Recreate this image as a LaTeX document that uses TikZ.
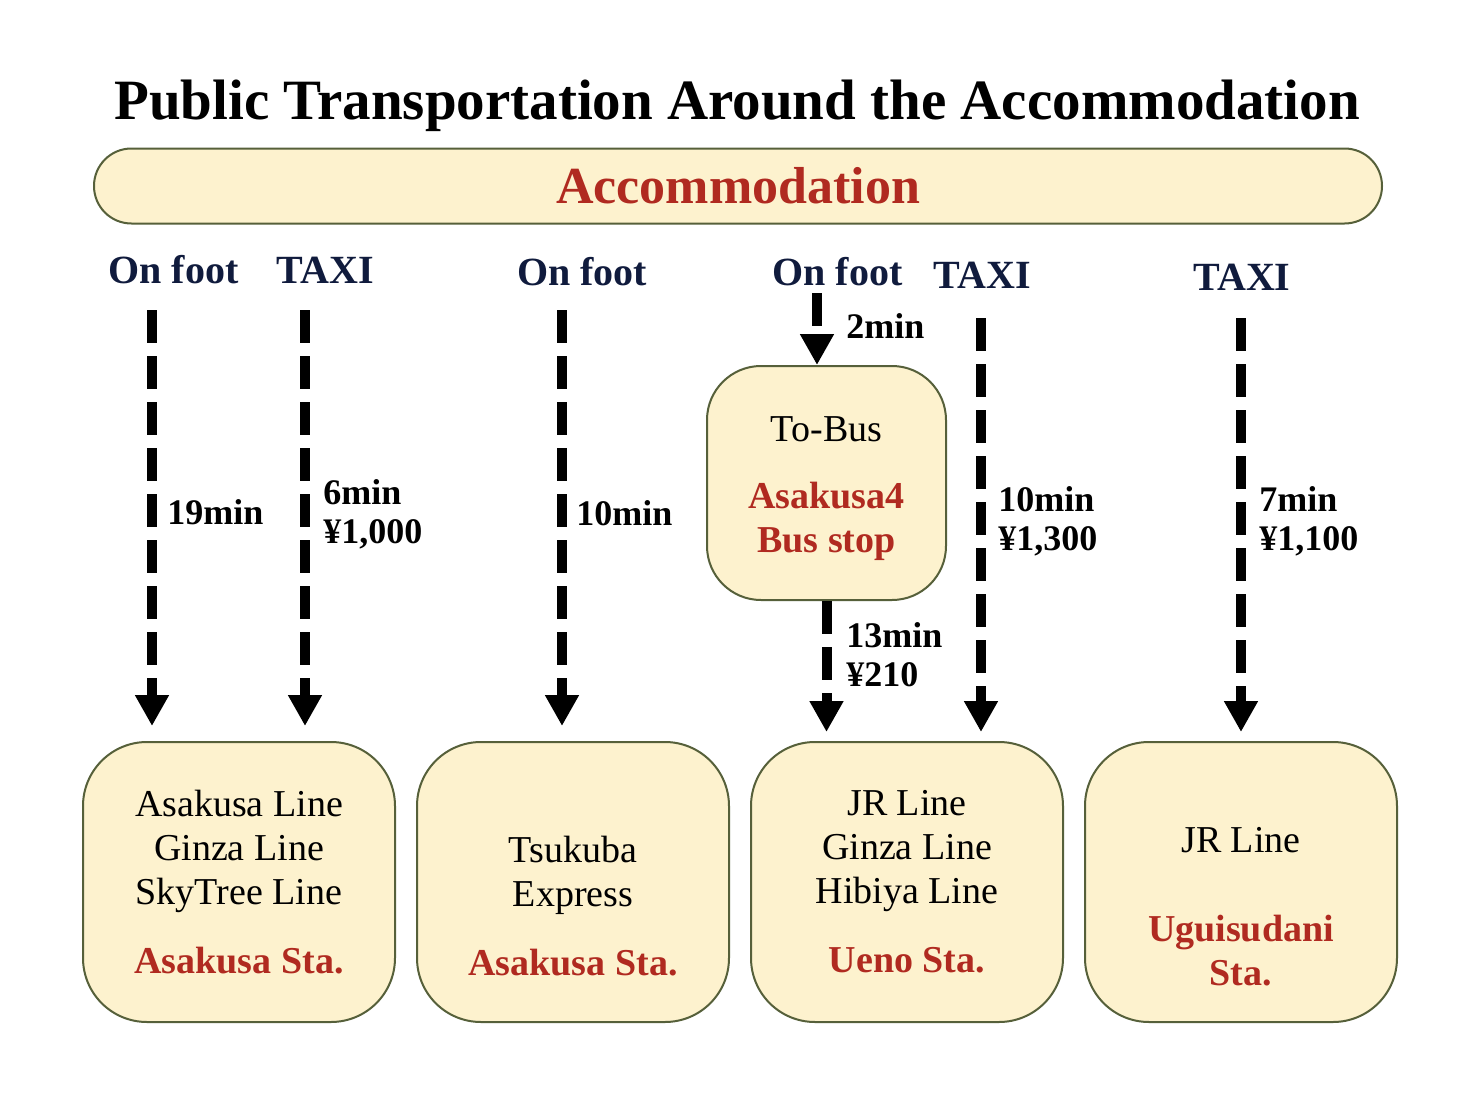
\documentclass[tikz,border=0pt]{standalone}
\usepackage{fontspec}
\setmainfont{Liberation Serif}
\usetikzlibrary{positioning,arrows.meta}

\definecolor{cream}{HTML}{FDF2CE}
\definecolor{olive}{HTML}{56603A}
\definecolor{stared}{HTML}{B02A20}
\definecolor{navy}{HTML}{101B3D}
\newcommand{\sta}[1]{{\bfseries\color{stared}#1}}

\begin{document}
\begin{tikzpicture}[x=0.5pt,y=-0.5pt]
        \tikzstyle{stop}=[draw=olive,fill=cream,line width=1pt,rounded corners=32pt,minimum width=156pt,minimum height=140pt,align=center,font=\fontsize{19}{22}\selectfont]
        \tikzstyle{mode}=[text=navy,anchor=base,inner sep=0pt,font=\bfseries\fontsize{20}{24}\selectfont]
        \tikzstyle{time}=[anchor=west,align=left,inner sep=0pt,font=\bfseries\fontsize{18}{19.5}\selectfont]
        \tikzstyle{route}=[line width=5pt,dash pattern=on 16.5pt off 6.5pt,-{Triangle[width=16pt,length=15.5pt]}]

        \fill[white] (0,0) rectangle (1480,1108);
        \useasboundingbox (0,0) rectangle (1480,1108);

        \node[font=\bfseries\fontsize{28.5}{32}\selectfont] (title) at (737,106) {Public Transportation Around the Accommodation};
        \node[draw=olive,fill=cream,line width=1pt,rounded corners=18.7pt,minimum width=644pt,minimum height=37.5pt,text=stared,font=\bfseries\fontsize{26}{30}\selectfont] (home) at (738,186) {Accommodation};

        % stations
        \node[stop] (asakusa) at (239,882) {Asakusa Line\\Ginza Line\\SkyTree Line\\[12.5pt]\sta{Asakusa Sta.}};
        \node[stop] (tsukuba) [right=10pt of asakusa] {\strut\\Tsukuba\\Express\\[12.5pt]\sta{Asakusa Sta.}};
        \node[stop] (ueno) [right=10pt of tsukuba] {JR Line\\Ginza Line\\Hibiya Line\\[12.5pt]\sta{Ueno Sta.}};
        \node[stop] (uguisudani) [right=10pt of ueno] {\strut\\JR Line\\[22.5pt]\sta{Uguisudani}\\\sta{Sta.}};
        \node[stop,minimum width=119.5pt,minimum height=117pt,rounded corners=27pt] (bus) at (826.5,483) {\rule{0pt}{18pt}To-Bus\\[11.5pt]\sta{Asakusa4}\\\sta{Bus stop}};

        % ways to go
        \node[mode] (foot1) at (173.5,283) {On foot};
        \node[mode] (taxi1) at (325.5,283) {TAXI};
        \node[mode] (foot2) at (582,285) {On foot};
        \node[mode] (foot3) at (837.5,285) {On foot};
        \node[mode] (taxi2) at (982.5,288) {TAXI};
        \node[mode] (taxi3) at (1242,290) {TAXI};

        \coordinate (s1) at (152,310);
        \coordinate (s2) at (305,310);
        \coordinate (s3) at (562,310);
        \coordinate (s4) at (817,293);
        \coordinate (s6) at (981,318);
        \coordinate (s7) at (1241,318);

        \draw[route,shorten >=7.5pt] (s1) -- (s1 |- asakusa.north);
        \draw[route,shorten >=7.5pt] (s2) -- (s2 |- asakusa.north);
        \draw[route,shorten >=7.5pt] (s3) -- (s3 |- tsukuba.north);
        \draw[route] (s4) -- (s4 |- bus.north);
        \draw[route,shorten >=4.5pt] (bus.south) -- (bus.south |- ueno.north);
        \draw[route,shorten >=4.5pt] (s6) -- (s6 |- ueno.north);
        \draw[route,shorten >=4.5pt] (s7) -- (s7 |- uguisudani.north);

        \node[time] (t1) at (167,512) {19min};
        \node[time] (t2) at (323,514) {6min\\¥1,000};
        \node[time] (t3) at (576,513) {10min};
        \node[time] (t4) at (846,326) {2min};
        \node[time] (t5) at (846,655) {13min\\¥210};
        \node[time] (t6) at (998,521) {10min\\¥1,300};
        \node[time] (t7) at (1259,521) {7min\\¥1,100};
    \end{tikzpicture}
\end{document}
